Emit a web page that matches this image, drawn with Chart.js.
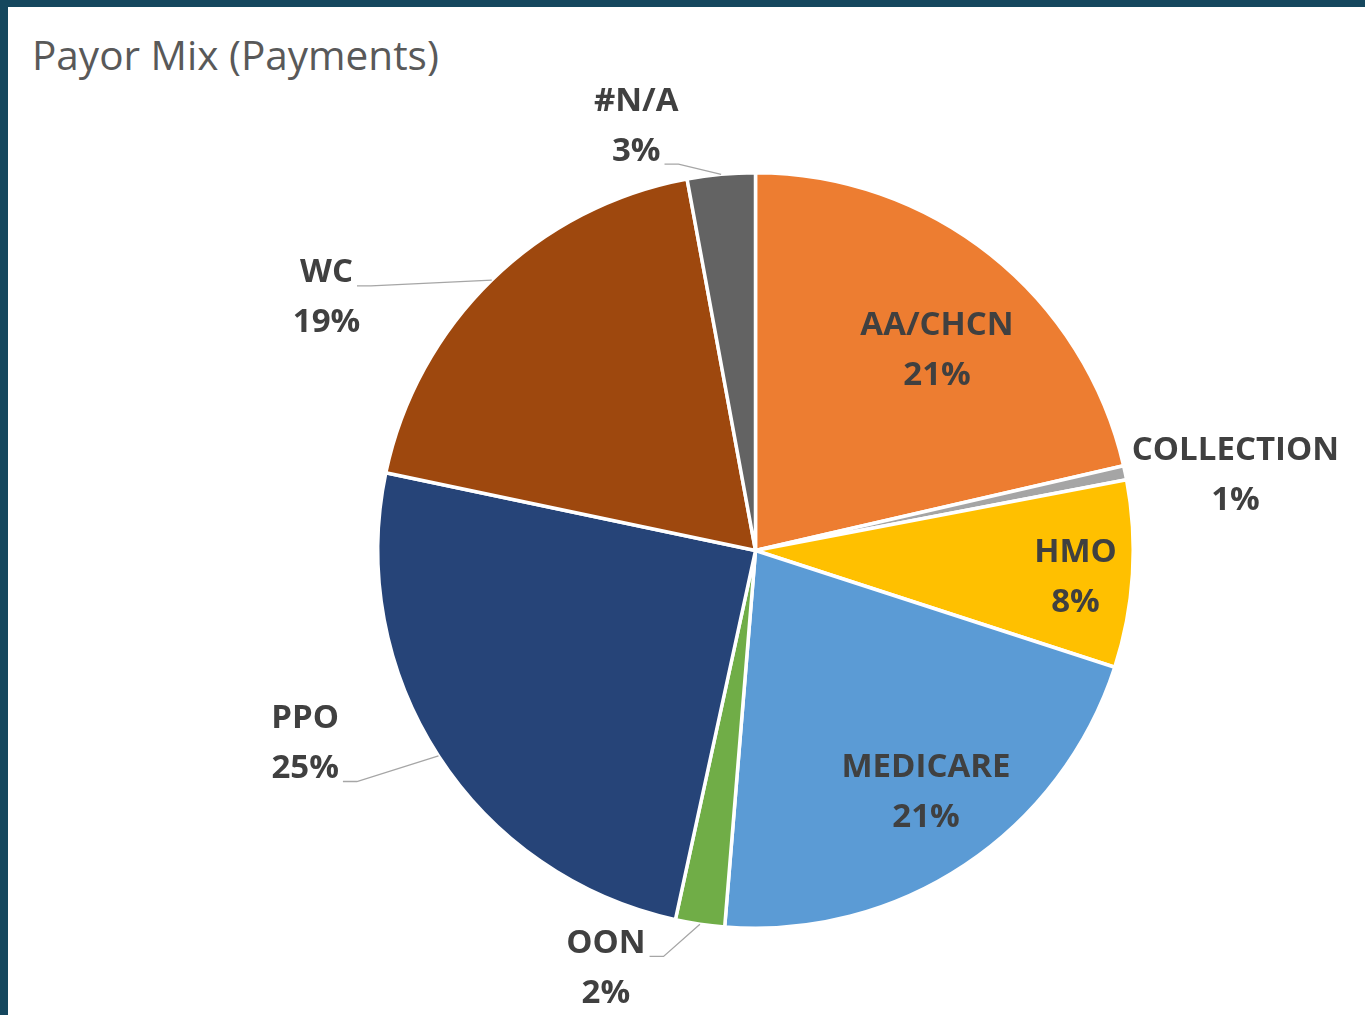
<!DOCTYPE html>
<html>
<head>
<meta charset="utf-8">
<script src="https://cdn.jsdelivr.net/npm/chart.js@4.4.1/dist/chart.umd.min.js"></script>
<style>
  html, body { margin: 0; padding: 0; }
  body { width: 1365px; height: 1015px; background: #15475e; position: relative; overflow: hidden; }
  #sheet { position: absolute; left: 8px; top: 7px; right: 0; bottom: 0; background: #ffffff; }
  #title { position: absolute; left: 32px; top: 35px; font-family: "Open Sans", sans-serif; font-size: 40.5px; line-height: 1; color: #595959; }
  #payorChart { position: absolute; left: 0; top: 0; }
</style>
</head>
<body>
<div id="sheet"></div>
<div id="title">Payor Mix (Payments)</div>
<canvas id="payorChart" width="1365" height="1015"></canvas>
<script>
// payor mix, share of payments (%)
const payors = ["AA/CHCN", "COLLECTION", "HMO", "MEDICARE", "OON", "PPO", "WC", "#N/A"];
const shares = [21.4, 0.6, 8.0, 21.3, 2.1, 24.9, 18.8, 2.9];
const sliceColors = ["#ED7D31", "#A5A5A5", "#FFC000", "#5B9BD5", "#70AD47", "#264478", "#9E480E", "#636363"];

// where each data label sits: angle from 12 o'clock (deg) and distance in radii
const labelAngles = [42.3, 81.1, 94.8, 144.8, 199.7, 246.8, 300.5, 344.3];
const labelRadii = [0.714, 1.286, 0.85, 0.783, 1.175, 1.297, 1.318, 1.167];
const leaderLines = [false, false, false, false, true, true, true, true];

const pieLabels = {
    id: "pieLabels",
    afterDatasetsDraw(chart) {
        const c = chart.ctx;
        const arcs = chart.getDatasetMeta(0).data;
        const total = shares.reduce((a, b) => a + b, 0);
        const lineGap = 50;
        c.save();
        c.font = "bold 33px 'Open Sans', sans-serif";
        c.textAlign = "center";
        c.textBaseline = "middle";
        arcs.forEach((arc, i) => {
            const p = arc.getProps(["x", "y", "startAngle", "endAngle", "outerRadius"], true);
            const r = p.outerRadius;
            const a = labelAngles[i] * Math.PI / 180;
            const lx = p.x + r * labelRadii[i] * Math.sin(a);
            const ly = p.y - r * labelRadii[i] * Math.cos(a);
            const lines = [payors[i], Math.round(shares[i] / total * 100) + "%"];
            const y1 = ly - lineGap / 2;
            const y2 = ly + lineGap / 2;
            c.fillStyle = "#404040";
            c.fillText(lines[0], lx, y1);
            c.fillText(lines[1], lx, y2);

            if (leaderLines[i]) {
                const mid = (p.startAngle + p.endAngle) / 2;
                const ex = p.x + r * Math.cos(mid);
                const ey = p.y + r * Math.sin(mid);
                // attach to the text line that faces the slice
                const useTop = ly > ey;
                const txt = useTop ? lines[0] : lines[1];
                const ty = (useTop ? y1 : y2) + 13;
                const w = c.measureText(txt).width;
                const right = ex > lx;
                const sx = right ? lx + w / 2 + 4 : lx - w / 2 - 4;
                const kx = right ? sx + 14 : sx - 14;
                c.strokeStyle = "#a6a6a6";
                c.lineWidth = 1.3;
                c.beginPath();
                c.moveTo(sx, ty);
                c.lineTo(kx, ty);
                c.lineTo(ex, ey);
                c.stroke();
            }
        });
        c.restore();
    }
};

new Chart(document.getElementById("payorChart"), {
    type: "pie",
    data: {
        labels: payors,
        datasets: [{
            data: shares,
            backgroundColor: sliceColors,
            borderColor: "#ffffff",
            borderWidth: 3.5
        }]
    },
    options: {
        responsive: false,
        animation: false,
        layout: {
            padding: { left: 376, top: 171, right: 230, bottom: 85 }
        },
        plugins: {
            legend: { display: false },
            title: { display: false },
            tooltip: { enabled: false }
        }
    },
    plugins: [pieLabels]
});
</script>
</body>
</html>
